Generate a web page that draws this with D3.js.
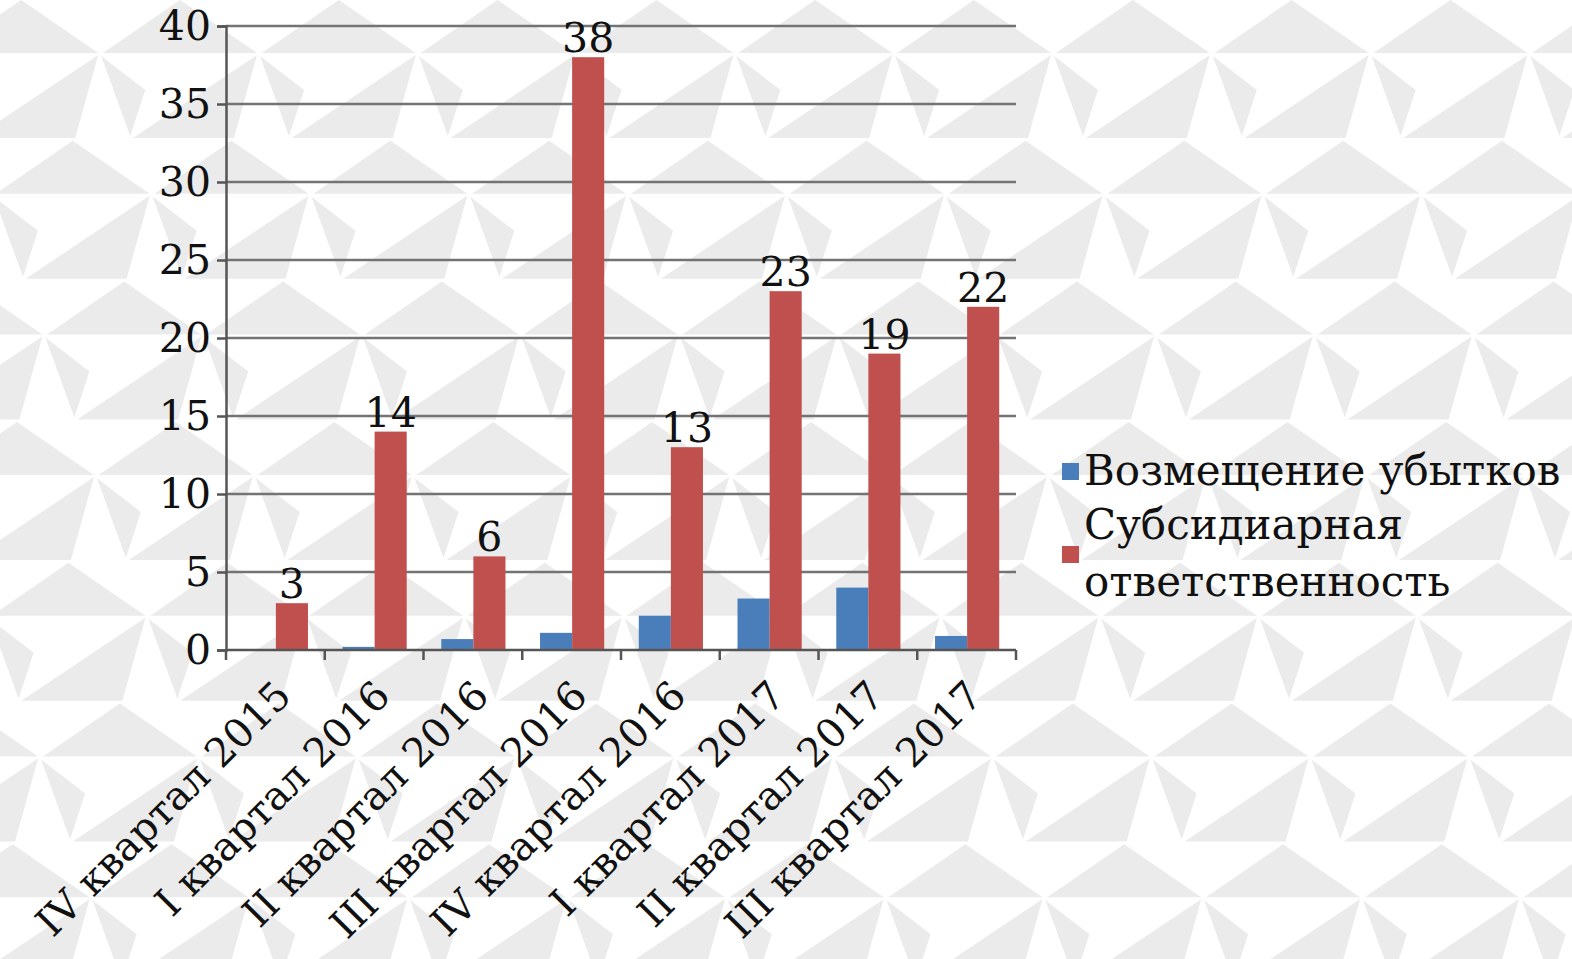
<!DOCTYPE html>
<html>
<head>
<meta charset="utf-8">
<script src="https://cdn.jsdelivr.net/npm/d3@7"></script>
<style>
  html, body { margin: 0; padding: 0; background: #fff; }
  svg text { font-family: "DejaVu Serif", "Liberation Serif", serif; fill: #111; }
</style>
</head>
<body>
<div id="chart"></div>
<script>
// данные
const categories = [
    'IV квартал 2015', 'I квартал 2016', 'II квартал 2016', 'III квартал 2016',
    'IV квартал 2016', 'I квартал 2017', 'II квартал 2017', 'III квартал 2017'
];
const seriesNames = ['Возмещение убытков', 'Субсидиарная ответственность'];
const damages = [0, 0.2, 0.7, 1.1, 2.2, 3.3, 4.0, 0.9];
const subsidiary = [3, 14, 6, 38, 13, 23, 19, 22];
const yTicks = [0, 5, 10, 15, 20, 25, 30, 35, 40];
const colors = ['#4a7ebb', '#c0504d'];

const W = 1572, H = 959;
const margin = { top: 26, right: 556, bottom: 309, left: 226 };
const width = W - margin.left - margin.right;
const height = H - margin.top - margin.bottom;

const svg = d3.select('#chart').append('svg')
    .attr('width', W)
    .attr('height', H);

// фоновый узор из треугольников
const bg = svg.append('g').attr('fill', '#ebebeb');
const stepX = 158.8, rowH = 140.7, shift = 51.5;
const shapes = [
    [[-154, 0], [-77, -53], [0, 0]],
    [[0, 2], [-23, 85], [-124, 85]],
    [[3, 3], [47, 37], [32, 83]]
];
for (let k = -1; k <= 7; k++) {
    for (let j = -4; j <= 12; j++) {
        const vx = 257 + k * shift + j * stepX;
        const vy = 53 + k * rowH;
        shapes.forEach(s => {
            bg.append('polygon')
                .attr('points', s.map(p => [vx + p[0], vy + p[1]].join(',')).join(' '));
        });
    }
}

const g = svg.append('g')
    .attr('transform', `translate(${margin.left},${margin.top})`);

const x0 = d3.scaleBand().domain(categories).range([0, width]);
const bw = x0.bandwidth();
const x1 = d3.scaleBand().domain(seriesNames).range([bw * 0.18, bw * 0.83]);
const y = d3.scaleLinear().domain([0, 40]).range([height, 0]);

// сетка
g.selectAll('.grid-line')
    .data(yTicks.slice(1))
    .enter()
    .append('line')
    .attr('x1', 0)
    .attr('x2', width)
    .attr('y1', d => y(d))
    .attr('y2', d => y(d))
    .attr('stroke', '#737373')
    .attr('stroke-width', 2.5);

// ось Y
const yAxis = g.append('g')
    .call(d3.axisLeft(y).tickValues(yTicks).tickSize(9).tickPadding(6));
yAxis.select('.domain').attr('stroke', '#555').attr('stroke-width', 2.5);
yAxis.selectAll('.tick line').attr('stroke', '#555').attr('stroke-width', 2.5);
yAxis.selectAll('.tick text')
    .attr('font-size', 41)
    .attr('font-family', '"DejaVu Serif", serif')
    .attr('fill', '#111');

// столбцы
const seriesData = [damages, subsidiary];
seriesData.forEach((vals, si) => {
    g.selectAll(`.bar-${si}`)
        .data(vals)
        .enter()
        .append('rect')
        .attr('x', (d, i) => x0(categories[i]) + x1(seriesNames[si]))
        .attr('y', d => y(d))
        .attr('width', x1.bandwidth())
        .attr('height', d => height - y(d))
        .attr('fill', colors[si]);
});

// подписи значений
g.selectAll('.value-label')
    .data(subsidiary)
    .enter()
    .append('text')
    .attr('x', (d, i) => x0(categories[i]) + x1(seriesNames[1]) + x1.bandwidth() / 2)
    .attr('y', d => y(d) - 5)
    .attr('text-anchor', 'middle')
    .attr('font-size', 41)
    .text(d => d);

// ось X
const xAxis = g.append('g')
    .attr('transform', `translate(0,${height})`);
xAxis.append('line')
    .attr('x1', 0).attr('x2', width)
    .attr('stroke', '#555').attr('stroke-width', 2.5);
xAxis.selectAll('.xtick')
    .data(categories.concat(['end']))
    .enter()
    .append('line')
    .attr('x1', (d, i) => i * bw)
    .attr('x2', (d, i) => i * bw)
    .attr('y1', 0).attr('y2', 10)
    .attr('stroke', '#555').attr('stroke-width', 2.5);
xAxis.selectAll('.xlabel')
    .data(categories)
    .enter()
    .append('text')
    .attr('text-anchor', 'end')
    .attr('font-size', 40)
    .attr('transform', d => `translate(${x0(d) + bw / 2 + 18},${48}) rotate(-45)`)
    .text(d => d);

// легенда
const legend = svg.append('g')
    .attr('transform', 'translate(1062, 0)');
legend.append('rect')
    .attr('x', 0).attr('y', 463).attr('width', 17).attr('height', 17)
    .attr('fill', colors[0]);
legend.append('text')
    .attr('x', 22).attr('y', 485)
    .attr('font-size', 42)
    .text(seriesNames[0]);
legend.append('rect')
    .attr('x', 0).attr('y', 546).attr('width', 17).attr('height', 17)
    .attr('fill', colors[1]);
const lt = legend.append('text')
    .attr('x', 22).attr('y', 539)
    .attr('font-size', 42);
lt.append('tspan').attr('x', 22).text('Субсидиарная');
lt.append('tspan').attr('x', 22).attr('dy', 57).text('ответственность');
</script>
</body>
</html>
